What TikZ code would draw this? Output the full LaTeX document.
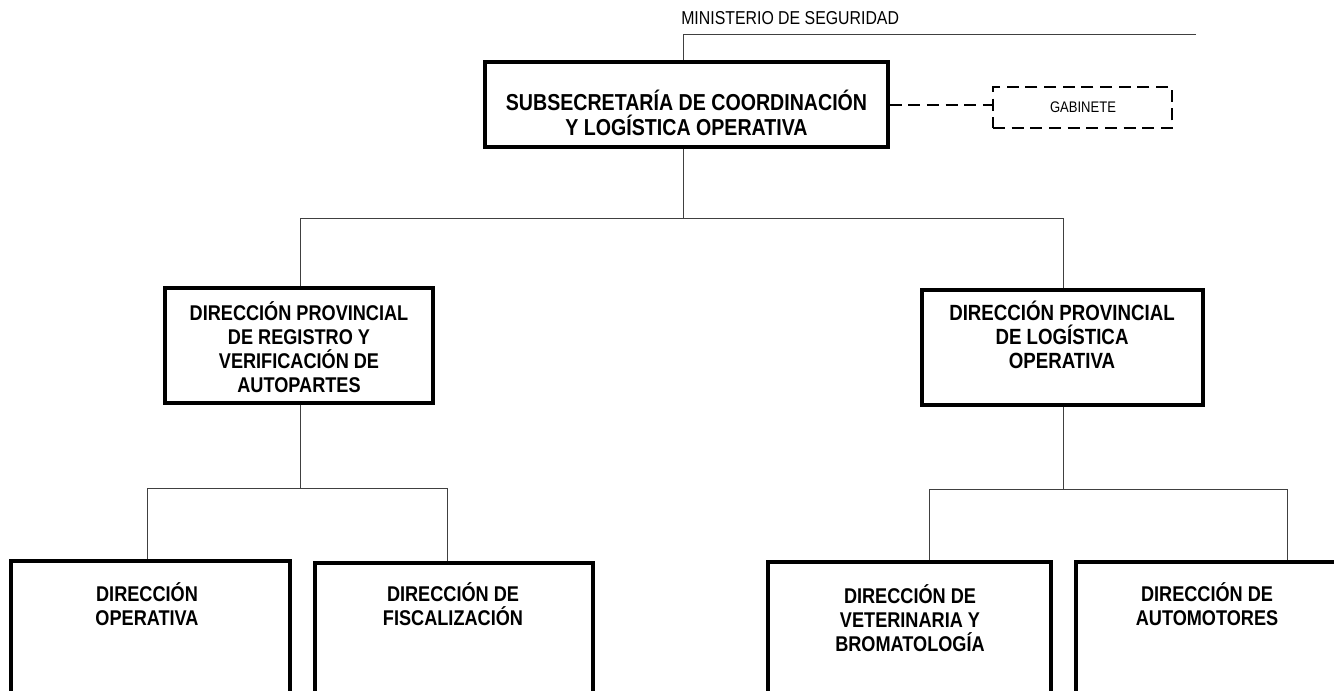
\documentclass[tikz,border=0pt]{standalone}
\usepackage{fontspec}
\setmainfont{Liberation Sans}[FakeStretch=0.85]
\usetikzlibrary{fit}
\begin{document}
\begin{tikzpicture}[x=0.75pt,y=-0.75pt,
  box/.style={draw=black,line width=2.3pt,inner sep=0pt},
  dashline/.style={draw=black,line width=2.1pt,dash pattern=on 9pt off 5pt},
  lbl/.style={align=center,inner sep=0pt,anchor=north,font=\bfseries\fontsize{16}{18}\selectfont},
  conn/.style={draw=black!75,line width=0.7pt}]
\useasboundingbox (0,0) rectangle (1334,690);
\clip (0,0) rectangle (1334,690);
% top
\node[anchor=west,inner sep=0pt,font=\fontsize{14}{16}\selectfont] (min) at (681,18) {MINISTERIO DE SEGURIDAD};
\coordinate (minL) at (683,34);
\coordinate (minR) at (1196,34);
\node[box,fit={(485,62)(888,147)}] (sub) {};
\node[lbl,font=\bfseries\fontsize{17.3}{18.75}\selectfont] (subt) at (686.5,90) {SUBSECRETARÍA DE COORDINACIÓN\\Y LOGÍSTICA OPERATIVA};
\node[box,dashline,fit={(993,87)(1172,128)}] (gab) {};
\node[inner sep=0pt,font=\fontsize{11.5}{13}\selectfont] (gabt) at (1083,107) {GABINETE};
% level 2
\node[box,fit={(165,288)(433,403)}] (dp1) {};
\node[lbl] (dp1t) at (299,301) {DIRECCIÓN PROVINCIAL\\DE REGISTRO Y\\VERIFICACIÓN DE\\AUTOPARTES};
\node[box,fit={(922,290)(1203,405)}] (dp2) {};
\node[lbl,font=\bfseries\fontsize{16.5}{18}\selectfont] (dp2t) at (1062,301) {DIRECCIÓN PROVINCIAL\\DE LOGÍSTICA\\OPERATIVA};
% level 3
\node[box,fit={(11,561)(290,720)}] (b1) {};
\node[box,fit={(315,563)(593,720)}] (b2) {};
\node[box,fit={(768,562)(1051,720)}] (b3) {};
\node[box,fit={(1076,562)(1360,720)}] (b4) {};
\node[lbl] (t1) at (147,582) {DIRECCIÓN\\OPERATIVA};
\node[lbl] (t2) at (453,582) {DIRECCIÓN DE\\FISCALIZACIÓN};
\node[lbl] (t3) at (910,584) {DIRECCIÓN DE\\VETERINARIA Y\\BROMATOLOGÍA};
\node[lbl] (t4) at (1207,582) {DIRECCIÓN DE\\AUTOMOTORES};
% connectors
\draw[conn] (minR) -- (minL) -- (sub.north -| minL);
\draw[dashline] (sub.east |- 0,105) -- (gab.west |- 0,105);
\coordinate (bar1) at (683,218);
\draw[conn] (sub.south -| bar1) -- (bar1);
\draw[conn] (dp1.north -| 300,0) -- (300,218) -- (1063,218) -- (dp2.north -| 1063,0);
\draw[conn] (dp1.south -| 300,0) -- (300,488);
\draw[conn] (b1.north -| 147,0) -- (147,488) -- (447,488) -- (b2.north -| 447,0);
\draw[conn] (dp2.south -| 1063,0) -- (1063,489);
\draw[conn] (b3.north -| 929,0) -- (929,489) -- (1287,489) -- (b4.north -| 1287,0);
\end{tikzpicture}
\end{document}
